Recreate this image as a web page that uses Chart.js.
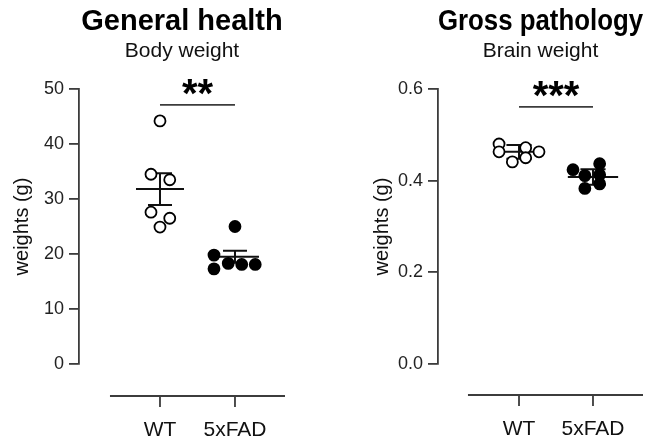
<!DOCTYPE html>
<html>
<head>
<meta charset="utf-8">
<script src="https://cdn.jsdelivr.net/npm/chart.js@4.4.1/dist/chart.umd.min.js"></script>
<style>
  body { margin: 0; background: #fff; }
  #wrap { position: relative; width: 661px; height: 441px; }
  canvas { position: absolute; top: 0; }
</style>
</head>
<body>
<div id="wrap">
  <canvas id="bodyChart" width="330" height="441" style="left:0"></canvas>
  <canvas id="brainChart" width="331" height="441" style="left:330px"></canvas>
</div>
<script>
// groups on the x axis
var groups = ['WT', '5xFAD'];

// body weight (g)
var bodyWT = [44.2, 34.5, 33.5, 27.6, 26.5, 24.9];
var bodyFAD = [25.0, 19.8, 18.3, 18.1, 18.1, 17.3];
var bodyMean = [31.8, 19.5];
var bodySem = [2.9, 1.1];
var bodyTicks = [0, 10, 20, 30, 40, 50];

// brain weight (g)
var brainWT = [0.480, 0.463, 0.441, 0.472, 0.450, 0.463];
var brainFAD = [0.424, 0.411, 0.437, 0.413, 0.393, 0.383];
var brainMean = [0.463, 0.408];
var brainSem = [0.015, 0.017];
var brainTicks = [0, 0.2, 0.4, 0.6];

// horizontal spread of the dots inside each group
var bodyWTJitter = [0, -0.12, 0.13, -0.12, 0.13, 0];
var bodyFADJitter = [0, -0.28, -0.09, 0.09, 0.27, -0.28];
var brainWTJitter = [-0.27, -0.27, -0.09, 0.09, 0.09, 0.27];
var brainFADJitter = [-0.27, -0.11, 0.09, 0.09, 0.09, -0.11];

var axisColor = '#3c3c3c';
Chart.defaults.font.family = "'Liberation Sans', Arial, Helvetica, sans-serif";

function dots(values, jitter, group, filled) {
    return {
        data: values.map(function(v, i) { return {x: group + jitter[i], y: v}; }),
        showLine: false,
        pointRadius: 5.5,
        pointBorderWidth: 1.8,
        pointBorderColor: '#000',
        pointBackgroundColor: filled ? '#000' : '#fff'
    };
}

// mean line plus SEM whisker with caps, gaps split the segments
function meanSem(mean, sem, group, half) {
    var cap = half / 2;
    return {
        data: [
            {x: group - half, y: mean}, {x: group + half, y: mean}, {x: group, y: null},
            {x: group, y: mean - sem}, {x: group, y: mean + sem}, {x: group, y: null},
            {x: group - cap, y: mean + sem}, {x: group + cap, y: mean + sem}, {x: group, y: null},
            {x: group - cap, y: mean - sem}, {x: group + cap, y: mean - sem}
        ],
        showLine: true,
        spanGaps: false,
        pointRadius: 0,
        borderColor: '#111',
        borderWidth: 2
    };
}

// detached x axis, group labels and significance bar
var groupAxis = {
    id: 'groupAxis',
    afterDraw: function(chart, args, opts) {
        var ctx = chart.ctx;
        var x = chart.scales.x, y = chart.scales.y;
        var base = chart.chartArea.bottom + opts.gap;
        ctx.save();
        ctx.strokeStyle = axisColor;
        ctx.lineWidth = 1.8;
        ctx.beginPath();
        ctx.moveTo(x.getPixelForValue(opts.from), base);
        ctx.lineTo(x.right, base);
        groups.forEach(function(g, i) {
            var px = x.getPixelForValue(i);
            ctx.moveTo(px, base);
            ctx.lineTo(px, base + 11);
        });
        ctx.stroke();
        ctx.fillStyle = '#111';
        ctx.font = "21px 'Liberation Sans', Arial, sans-serif";
        ctx.textAlign = 'center';
        ctx.textBaseline = 'middle';
        groups.forEach(function(g, i) {
            ctx.fillText(g, x.getPixelForValue(i), base + 34);
        });

        var sy = y.getPixelForValue(opts.sigValue);
        var x0 = x.getPixelForValue(0), x1 = x.getPixelForValue(1);
        ctx.beginPath();
        ctx.moveTo(x0, sy);
        ctx.lineTo(x1, sy);
        ctx.stroke();
        ctx.fillStyle = '#000';
        ctx.font = "bold 40px 'Liberation Sans', Arial, sans-serif";
        ctx.textBaseline = 'alphabetic';
        ctx.fillText(opts.sigLabel, (x0 + x1) / 2, sy - 21 + 0.58 * 40);
        ctx.restore();
    }
};

function makePanel(id, p) {
    return new Chart(document.getElementById(id), {
        type: 'scatter',
        data: {
            datasets: [
                dots(p.wt, p.wtJitter, 0, false),
                dots(p.fad, p.fadJitter, 1, true),
                meanSem(p.mean[0], p.sem[0], 0, p.half),
                meanSem(p.mean[1], p.sem[1], 1, p.half)
            ]
        },
        plugins: [groupAxis],
        options: {
            responsive: false,
            animation: false,
            events: [],
            layout: { padding: { left: 0, right: p.padRight, top: 0, bottom: 77 } },
            plugins: {
                legend: { display: false },
                tooltip: { enabled: false },
                title: {
                    display: true,
                    text: p.title,
                    fullSize: false,
                    color: '#000',
                    font: { size: 29, weight: 'bold', lineHeight: 1 },
                    padding: { top: 7.5, bottom: 0 }
                },
                subtitle: {
                    display: true,
                    text: p.subtitle,
                    fullSize: false,
                    color: '#111',
                    font: { size: 21, lineHeight: 1 },
                    padding: { top: 3.8, bottom: 27.7 }
                },
                groupAxis: { gap: p.gap, from: p.axisFrom, sigValue: p.sigValue, sigLabel: p.sigLabel }
            },
            scales: {
                x: {
                    type: 'linear',
                    display: false,
                    min: p.xMin,
                    max: p.xMax
                },
                y: {
                    min: p.ticks[0],
                    max: p.ticks[p.ticks.length - 1],
                    afterFit: function(s) { s.width = p.yWidth; },
                    afterBuildTicks: function(s) {
                        s.ticks = p.ticks.map(function(v) { return {value: v}; });
                    },
                    border: { display: true, color: axisColor, width: 1.8 },
                    grid: { drawOnChartArea: false, drawTicks: true, tickLength: 10, color: axisColor, lineWidth: 1.8 },
                    ticks: {
                        padding: 5,
                        color: '#222',
                        font: { size: 18 },
                        callback: p.format
                    },
                    title: {
                        display: true,
                        text: 'weights (g)',
                        color: '#111',
                        font: { size: 20 },
                        padding: { top: p.titlePad, bottom: 0 }
                    }
                }
            }
        }
    });
}

makePanel('bodyChart', {
    title: 'General health', subtitle: 'Body weight',
    wt: bodyWT, fad: bodyFAD, wtJitter: bodyWTJitter, fadJitter: bodyFADJitter,
    mean: bodyMean, sem: bodySem, ticks: bodyTicks,
    format: function(v) { return String(v); },
    half: 0.32, xMin: -1.08, xMax: 1.667, axisFrom: -0.667,
    yWidth: 79, padRight: 45, titlePad: 10, gap: 32,
    sigValue: 47.1, sigLabel: '**'
});

makePanel('brainChart', {
    title: 'Gross pathology', subtitle: 'Brain weight',
    wt: brainWT, fad: brainFAD, wtJitter: brainWTJitter, fadJitter: brainFADJitter,
    mean: brainMean, sem: brainSem, ticks: brainTicks,
    format: function(v) { return Number(v).toFixed(1); },
    half: 0.34, xMin: -1.095, xMax: 1.676, axisFrom: -0.69,
    yWidth: 108, padRight: 18, titlePad: 40, gap: 31,
    sigValue: 0.561, sigLabel: '***'
});
</script>
</body>
</html>
